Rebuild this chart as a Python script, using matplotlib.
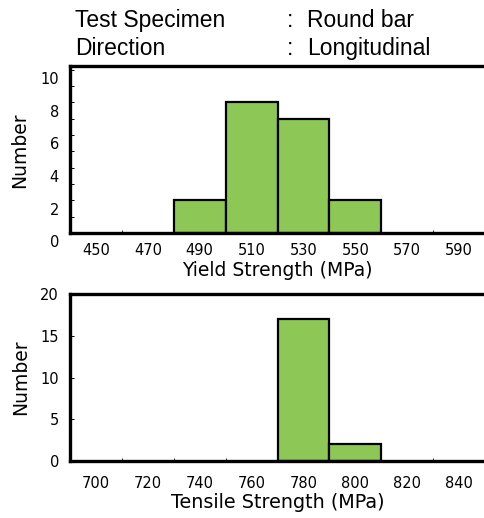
import matplotlib
matplotlib.use('Agg')
import matplotlib.pyplot as plt
import matplotlib.transforms as mtransforms

# yield strength histogram (bin edges in MPa, counts)
yield_edges = [480, 500, 520, 540, 560]
yield_counts = [2, 8, 7, 2]
yield_ticks = [450, 470, 490, 510, 530, 550, 570, 590]

# tensile strength histogram
tensile_edges = [770, 790, 810]
tensile_counts = [17, 2]
tensile_ticks = [700, 720, 740, 760, 780, 800, 820, 840]

header_left = ["Test Specimen", "Direction"]
header_right = ["Round bar", "Longitudinal"]

bar_color = "#8dc856"
tick_font = "DejaVu Sans"

fig = plt.figure(figsize=(4.85, 5.18), dpi=100)

# header block
for i, (k, v) in enumerate(zip(header_left, header_right)):
    y = [0.948, 0.894][i]
    fig.text(75 / 485, y, k, fontsize=16.5, family="Liberation Sans", va="baseline")
    fig.text(287 / 485, y, ":", fontsize=16.5, family="Liberation Sans", va="baseline")
    fig.text(307 / 485, y, v, fontsize=16.5, family="Liberation Sans", va="baseline")

ax1 = fig.add_axes([70 / 485, 0.550, 415 / 485, 0.322])
ax2 = fig.add_axes([70 / 485, 0.110, 415 / 485, 0.322])


def draw_hist(ax, edges, counts):
    widths = [b - a for a, b in zip(edges[:-1], edges[1:])]
    ax.bar(edges[:-1], counts, width=widths, align="edge",
           color=bar_color, edgecolor="black", linewidth=1.6, zorder=2)


def style_axis(ax, xpad):
    for side in ["left", "top", "bottom"]:
        ax.spines[side].set_linewidth(2.4)
        ax.spines[side].set_zorder(3)
    ax.spines["right"].set_visible(False)
    ax.tick_params(axis="x", which="major", length=0, pad=xpad, labelsize=10.5)
    ax.tick_params(axis="x", which="minor", direction="in", length=2, width=0.6)
    ax.tick_params(axis="y", which="both", direction="in", length=3, width=0.7,
                   pad=8, labelsize=10.5)
    for lab in ax.get_xticklabels() + ax.get_yticklabels():
        lab.set_family(tick_font)


draw_hist(ax1, yield_edges, yield_counts)
ax1.set_xlim(440, 600)
ax1.set_ylim(0, 10.2)
ax1.set_xticks(yield_ticks)
ax1.set_xticks(range(460, 600, 20), minor=True)
ax1.set_yticks([0, 2, 4, 6, 8, 10])
ax1.set_yticks(range(1, 10, 2), minor=True)
style_axis(ax1, 7)
ax1.set_xlabel("Yield Strength (MPa)", fontsize=13.5, family=tick_font, labelpad=2)
ax1.set_ylabel("Number", fontsize=13.5, family=tick_font, labelpad=8)
# labels in the original sit slightly below their ticks
shift = mtransforms.ScaledTranslation(0, -6 / 72, fig.dpi_scale_trans)
for lab in ax1.get_yticklabels():
    lab.set_transform(lab.get_transform() + shift)

draw_hist(ax2, tensile_edges, tensile_counts)
ax2.set_xlim(690, 850)
ax2.set_ylim(0, 20)
ax2.set_xticks(tensile_ticks)
ax2.set_xticks(range(710, 850, 20), minor=True)
ax2.set_yticks([0, 5, 10, 15, 20])
style_axis(ax2, 11)
ax2.set_xlabel("Tensile Strength (MPa)", fontsize=13.8, family=tick_font, labelpad=1)
ax2.set_ylabel("Number", fontsize=13.5, family=tick_font, labelpad=7)

fig.savefig("out.png", dpi=100)
